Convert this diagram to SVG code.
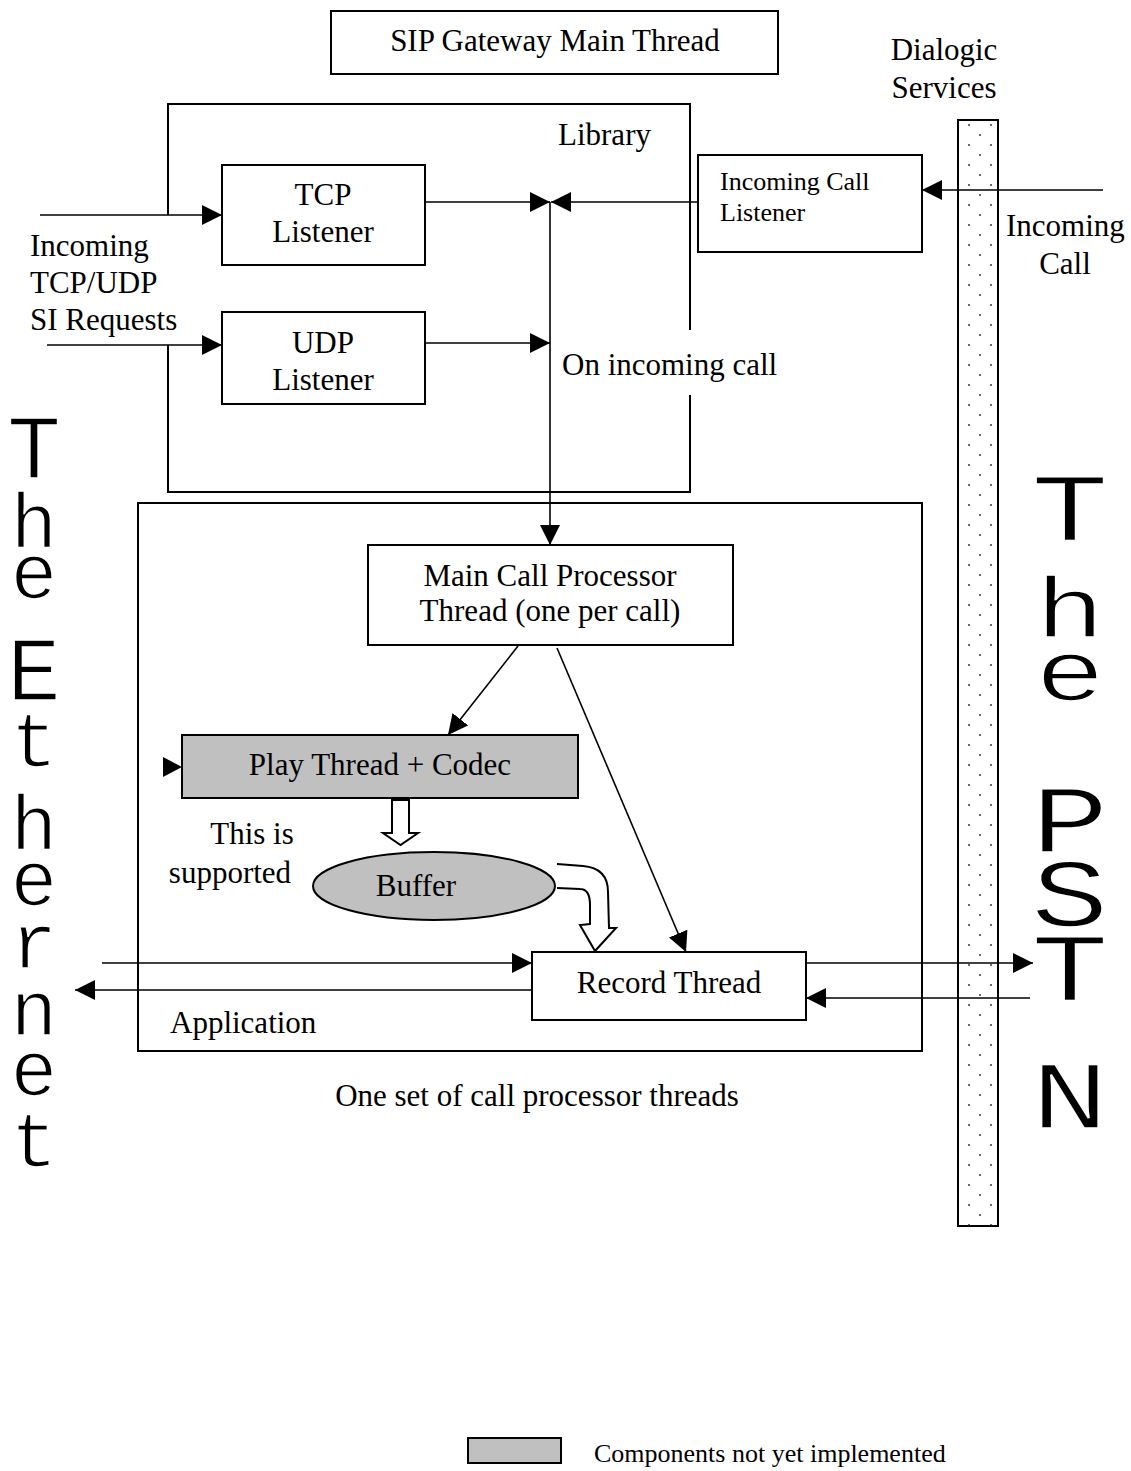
<svg xmlns="http://www.w3.org/2000/svg" width="1131" height="1471" viewBox="0 0 1131 1471">
  <defs>
    <marker id="arrow" markerUnits="userSpaceOnUse" markerWidth="20" markerHeight="20" refX="20" refY="10" orient="auto" viewBox="0 0 20 20">
      <path d="M0,0 L20,10 L0,20 z" fill="#000"/>
    </marker>
    <pattern id="dots" patternUnits="userSpaceOnUse" x="958" y="120" width="22" height="20">
      <rect width="22" height="20" fill="#fff"/>
      <circle cx="11" cy="5" r="1.1" fill="#444"/>
      <circle cx="0" cy="15" r="1.1" fill="#444"/>
      <circle cx="22" cy="15" r="1.1" fill="#444"/>
    </pattern>
    <style>
      .box{fill:#fff;stroke:#000;stroke-width:2}
      .frame{fill:none;stroke:#000;stroke-width:2}
      .gray{fill:#c0c0c0;stroke:#000;stroke-width:2}
      .ln{fill:none;stroke:#000;stroke-width:1.6}
      .hollow{fill:#fff;stroke:#000;stroke-width:2;stroke-linejoin:miter}
      .t{font-family:"Liberation Serif","Times New Roman",serif;font-size:31px;fill:#000}
      .s{font-size:26px}
      .m{text-anchor:middle}
      .big{font-family:"Liberation Mono","Courier New",monospace;text-anchor:middle;fill:#000;stroke:#fff;stroke-width:1.6}
    </style>
  </defs>

  <rect width="1131" height="1471" fill="#fff"/>

  <!-- side labels: the two networks, one letter per line -->
  <g id="ethernet-label">
    <text class="big" font-size="78"><tspan x="34" y="478" font-size="90">T</tspan><tspan x="34" y="548">h</tspan><tspan x="34" y="598">e</tspan><tspan x="34" y="700" font-size="90">E</tspan><tspan x="34" y="766">t</tspan><tspan x="34" y="850">h</tspan><tspan x="34" y="905">e</tspan><tspan x="34" y="968">r</tspan><tspan x="34" y="1035">n</tspan><tspan x="34" y="1095">e</tspan><tspan x="34" y="1166">t</tspan></text>
  </g>
  <g id="pstn-label">
    <text class="big" font-size="96" transform="matrix(1.35 0 0 1 1070 0)"><tspan x="0" y="540">T</tspan><tspan x="0" y="637" font-size="86">h</tspan><tspan x="0" y="700" font-size="86">e</tspan><tspan x="0" y="852">P</tspan><tspan x="0" y="926">S</tspan><tspan x="0" y="1000">T</tspan><tspan x="0" y="1128">N</tspan></text>
  </g>

  <g id="main-thread">
    <rect class="box" x="331" y="11" width="447" height="63"/>
    <text class="t m" x="555" y="51">SIP Gateway Main Thread</text>
  </g>

  <g id="dialogic-services">
    <rect x="958" y="120" width="40" height="1106" fill="url(#dots)" stroke="#000" stroke-width="2"/>
    <text class="t m" x="944" y="60">Dialogic</text>
    <text class="t m" x="944" y="98">Services</text>
  </g>

  <g id="library">
    <path class="frame" d="M168,215 V104 H690 V330 M690,395 V492 H168 V345"/>
    <text class="t" x="558" y="145">Library</text>
  </g>

  <g id="tcp-listener">
    <rect class="box" x="222" y="165" width="203" height="100"/>
    <text class="t m" x="323" y="205">TCP</text>
    <text class="t m" x="323" y="242">Listener</text>
  </g>

  <g id="udp-listener">
    <rect class="box" x="222" y="312" width="203" height="92"/>
    <text class="t m" x="323" y="353">UDP</text>
    <text class="t m" x="323" y="390">Listener</text>
  </g>

  <g id="incoming-call-listener">
    <rect class="box" x="698" y="155" width="224" height="97"/>
    <text class="t s" x="720" y="190">Incoming Call</text>
    <text class="t s" x="720" y="221">Listener</text>
  </g>

  <g id="application">
    <rect class="frame" x="138" y="503" width="784" height="548"/>
    <text class="t" x="170" y="1033">Application</text>
  </g>

  <g id="main-call-processor">
    <rect class="box" x="368" y="545" width="365" height="100"/>
    <text class="t m" x="550" y="586">Main Call Processor</text>
    <text class="t m" x="550" y="621">Thread (one per call)</text>
  </g>

  <g id="play-thread">
    <rect class="gray" x="182" y="735" width="396" height="63"/>
    <text class="t m" x="380" y="775">Play Thread + Codec</text>
  </g>

  <g id="buffer">
    <ellipse class="gray" cx="434" cy="886" rx="121" ry="34"/>
    <text class="t m" x="416" y="896">Buffer</text>
  </g>

  <g id="record-thread">
    <rect class="box" x="532" y="952" width="274" height="68"/>
    <text class="t m" x="669" y="993">Record Thread</text>
  </g>

  <g id="labels">
    <text class="t" x="30" y="256">Incoming</text>
    <text class="t" x="30" y="293">TCP/UDP</text>
    <text class="t" x="30" y="330">SI Requests</text>
    <text class="t" x="1006" y="236">Incoming</text>
    <text class="t m" x="1065" y="274">Call</text>
    <text class="t" x="562" y="375">On incoming call</text>
    <text class="t m" x="252" y="844">This is</text>
    <text class="t m" x="230" y="883">supported</text>
    <text class="t m" x="537" y="1106">One set of call processor threads</text>
  </g>

  <g id="legend">
    <rect class="gray" x="468" y="1438" width="93" height="25"/>
    <text class="t s" x="594" y="1462">Components not yet implemented</text>
  </g>

  <g id="connectors">
    <line class="ln" x1="40" y1="215" x2="222" y2="215" marker-end="url(#arrow)"/>
    <line class="ln" x1="47" y1="345" x2="222" y2="345" marker-end="url(#arrow)"/>
    <line class="ln" x1="425" y1="202" x2="550" y2="202" marker-end="url(#arrow)"/>
    <line class="ln" x1="698" y1="202" x2="551" y2="202" marker-end="url(#arrow)"/>
    <line class="ln" x1="425" y1="343" x2="550" y2="343" marker-end="url(#arrow)"/>
    <line class="ln" x1="550" y1="202" x2="550" y2="545" marker-end="url(#arrow)"/>
    <line class="ln" x1="1103" y1="190" x2="922" y2="190" marker-end="url(#arrow)"/>
    <line class="ln" x1="518" y1="646" x2="448" y2="735" marker-end="url(#arrow)"/>
    <line class="ln" x1="557" y1="648" x2="686" y2="952" marker-end="url(#arrow)"/>
    <path d="M163,757 L182,767 L163,777 z" fill="#000"/>
    <line class="ln" x1="102" y1="963" x2="532" y2="963" marker-end="url(#arrow)"/>
    <line class="ln" x1="532" y1="990" x2="75" y2="990" marker-end="url(#arrow)"/>
    <line class="ln" x1="806" y1="963" x2="1033" y2="963" marker-end="url(#arrow)"/>
    <line class="ln" x1="1030" y1="998" x2="806" y2="998" marker-end="url(#arrow)"/>
    <path class="hollow" d="M392,800 H409 V833 H418 L400.5,845 L383,833 H392 Z"/>
    <path class="hollow" d="M557,864 L583,866 Q608,868 608,892 L609,928 L616,928 L595,951 L580,925 L590,924 L590,905 Q590,889 580,889 L557,888"/>
  </g>
</svg>
